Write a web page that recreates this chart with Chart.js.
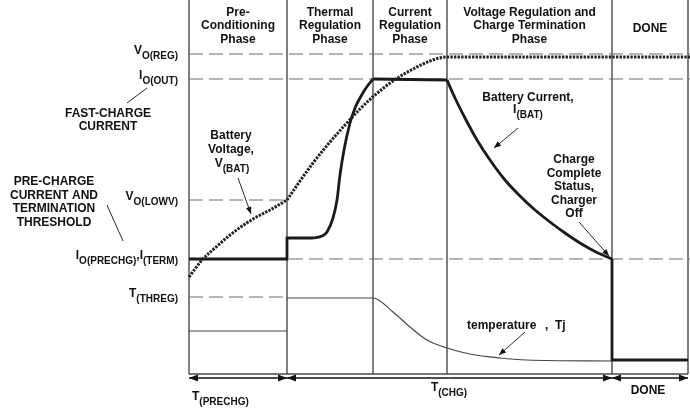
<!DOCTYPE html>
<html>
<head>
<meta charset="utf-8">
<script src="https://cdn.jsdelivr.net/npm/chart.js@4.4.1/dist/chart.umd.min.js"></script>
<style>
  html, body { margin: 0; padding: 0; background: #fff; }
  #wrap { width: 690px; height: 413px; position: relative; }
</style>
</head>
<body>
<div id="wrap"><canvas id="grafico"></canvas></div>
<script>
// phase boundaries on the time axis (arbitrary units)
const phaseEdges = [0, 98, 184, 258, 423, 499];
const phaseNames = [
  ["Pre-", "Conditioning", "Phase"],
  ["Thermal", "Regulation", "Phase"],
  ["Current", "Regulation", "Phase"],
  ["Voltage Regulation and", "Charge Termination", "Phase"],
  ["DONE"]
];

// threshold levels (arbitrary units)
const vReg = 320, iOut = 295, vLowv = 174, iPrechg = 115, tThreg = 77;

// battery current I(BAT)
const currentSteps = [[0, 115], [98, 115], [98, 136], [124, 136], [124, null],
  [184, 295], [258, 294], [258, null],
  [423, 115], [423, 14], [499, 14]];
const currentRise = [[124, 136], [133, 138], [138, 142], [144, 156], [148, 174], [151, 199],
  [155, 224], [161, 251], [166, 266], [171, 276], [177, 286], [184, 295]];
const currentDecay = [[258, 294], [266, 276], [276, 256], [288, 234], [301, 214], [316, 194],
  [331, 178], [346, 164], [361, 152], [376, 141], [391, 131], [407, 122], [423, 115]];

// battery voltage V(BAT)
const voltagePre = [[0, 97], [13, 114], [26, 126], [41, 139], [64, 155], [81, 164], [98, 174]];
const voltageFast = [[98, 174], [111, 193], [124, 211], [141, 232], [156, 249], [171, 265],
  [186, 279], [204, 293], [224, 305], [241, 313], [258, 317], [501, 317]];

// junction temperature Tj
const tempPre = [[0, 43], [98, 43]];
const tempCurve = [[98, 76], [184, 76], [204, 62], [221, 47], [238, 34], [258, 26],
  [281, 20], [311, 16], [338, 14], [423, 13]];

const pts = arr => arr.map(p => ({ x: p[0], y: p[1] }));

const topY = 374;
const frame = [];
phaseEdges.forEach(e => { frame.push([e, 0], [e, topY], [e, null]); });
frame.push([0, 0], [499, 0]);

const levelsFull = [[0, vReg], [501, vReg], [501, null], [0, iOut], [501, iOut], [501, null],
  [0, iPrechg], [501, iPrechg], [501, null], [0, vLowv], [98, vLowv], [98, null],
  [0, tThreg], [98, tThreg]];

const FMAIN = 'bold 12px "Liberation Sans", Arial, Helvetica, sans-serif';
const FSUB = 'bold 10px "Liberation Sans", Arial, Helvetica, sans-serif';

function rich(ctx, segs, xPos, yMid, align) {
  const w = segs.map(([t, s]) => { ctx.font = s ? FSUB : FMAIN; return ctx.measureText(t).width; });
  const total = w.reduce((a, b) => a + b, 0);
  let cx = align === "right" ? xPos - total : align === "center" ? xPos - total / 2 : xPos;
  ctx.textAlign = "left";
  segs.forEach(([t, s], i) => {
    ctx.font = s ? FSUB : FMAIN;
    ctx.fillText(t, cx, s ? yMid + 5 : yMid);
    cx += w[i];
  });
}

function lines(ctx, arr, xc, ys) {
  ctx.font = FMAIN;
  ctx.textAlign = "center";
  arr.forEach((t, i) => ctx.fillText(t, xc, ys[i]));
}

function arrow(ctx, x1, y1, x2, y2, head) {
  ctx.beginPath();
  ctx.moveTo(x1, y1);
  ctx.lineTo(x2, y2);
  ctx.stroke();
  if (!head) return;
  const a = Math.atan2(y2 - y1, x2 - x1);
  ctx.beginPath();
  ctx.moveTo(x2, y2);
  ctx.lineTo(x2 - head * Math.cos(a) + head * 0.4 * Math.sin(a), y2 - head * Math.sin(a) - head * 0.4 * Math.cos(a));
  ctx.lineTo(x2 - head * Math.cos(a) - head * 0.4 * Math.sin(a), y2 - head * Math.sin(a) + head * 0.4 * Math.cos(a));
  ctx.closePath();
  ctx.fill();
}

const rotulos = {
  id: "rotulos",
  afterDatasetsDraw(chart) {
    const { ctx, scales: { x, y }, chartArea } = chart;
    ctx.save();
    ctx.fillStyle = "#111";
    ctx.strokeStyle = "#111";
    ctx.textBaseline = "middle";

    // phase headers
    phaseNames.forEach((nm, i) => {
      const xc = (x.getPixelForValue(phaseEdges[i]) + x.getPixelForValue(phaseEdges[i + 1])) / 2;
      if (nm.length === 1) lines(ctx, nm, xc, [29]);
      else lines(ctx, nm, xc, [12.5, 26, 39.5]);
    });

    // level labels
    const xr = 178;
    rich(ctx, [["V", 0], ["O(REG)", 1]], xr, y.getPixelForValue(vReg) - 3, "right");
    rich(ctx, [["I", 0], ["O(OUT)", 1]], xr, y.getPixelForValue(iOut) - 3, "right");
    rich(ctx, [["V", 0], ["O(LOWV)", 1]], xr, y.getPixelForValue(vLowv) - 3, "right");
    rich(ctx, [["I", 0], ["O(PRECHG)", 1], [",", 0], ["I", 0], ["(TERM)", 1]], xr, y.getPixelForValue(iPrechg) - 3, "right");
    rich(ctx, [["T", 0], ["(THREG)", 1]], xr, y.getPixelForValue(tThreg) - 3, "right");

    lines(ctx, ["FAST-CHARGE", "CURRENT"], 108, [114, 127]);
    lines(ctx, ["PRE-CHARGE", "CURRENT AND", "TERMINATION", "THRESHOLD"], 54, [182, 196, 209, 223]);
    lines(ctx, ["Battery", "Voltage,"], 231, [136, 150]);
    rich(ctx, [["V", 0], ["(BAT)", 1]], 232, 164, "center");
    lines(ctx, ["Battery Current,"], 528, [98]);
    rich(ctx, [["I", 0], ["(BAT)", 1]], 528, 110, "center");
    lines(ctx, ["Charge", "Complete", "Status,", "Charger", "Off"], 574, [160, 174, 187, 201, 214]);
    ctx.font = FMAIN;
    ctx.textAlign = "left";
    ctx.fillText("temperature", 467, 326);
    ctx.fillText(",", 545, 326);
    ctx.fillText("Tj", 555, 326);

    // leader lines and arrows
    ctx.lineWidth = 0.9;
    arrow(ctx, 127, 103, 147, 88, 0);
    arrow(ctx, 107, 205, 123, 241, 0);
    arrow(ctx, 238, 178, 251, 214, 7);
    arrow(ctx, 518, 128, 494, 148, 7);
    arrow(ctx, 579, 222, 609, 256, 7);
    arrow(ctx, 525, 332, 499, 355, 7);

    // duration arrows under the chart
    const ya = chartArea.bottom + 4;
    const spans = [[phaseEdges[0], phaseEdges[1]], [phaseEdges[1], phaseEdges[4]], [phaseEdges[4], phaseEdges[5]]];
    ctx.lineWidth = 1.6;
    spans.forEach(([a, b]) => {
      const p1 = x.getPixelForValue(a), p2 = x.getPixelForValue(b);
      const m = (p1 + p2) / 2;
      arrow(ctx, m, ya, p2, ya, 9);
      arrow(ctx, m, ya, p1, ya, 9);
    });
    rich(ctx, [["T", 0], ["(PRECHG)", 1]], 192, 397, "left");
    rich(ctx, [["T", 0], ["(CHG)", 1]], 449, 388, "center");
    lines(ctx, ["DONE"], 648, [391]);
    ctx.restore();
  }
};

new Chart(document.getElementById("grafico"), {
  type: "line",
  data: {
    datasets: [
      { data: pts(currentSteps), borderColor: "#1a1a1a", borderWidth: 2.8, tension: 0, clip: false },
      { data: pts(currentRise), borderColor: "#1a1a1a", borderWidth: 2.8, cubicInterpolationMode: "monotone", clip: false },
      { data: pts(currentDecay), borderColor: "#1a1a1a", borderWidth: 2.8, cubicInterpolationMode: "monotone", clip: false },
      { data: pts(voltagePre), borderColor: "#222", borderWidth: 3, borderDash: [2.4, 1.2], cubicInterpolationMode: "monotone", clip: false },
      { data: pts(voltageFast), borderColor: "#222", borderWidth: 3, borderDash: [2.4, 1.2], cubicInterpolationMode: "monotone", clip: false },
      { data: pts(tempPre), borderColor: "#444", borderWidth: 1.1, clip: false },
      { data: pts(tempCurve), borderColor: "#444", borderWidth: 1.1, cubicInterpolationMode: "monotone", clip: false },
      { data: pts(levelsFull), borderColor: "#6a6a6a", borderWidth: 1, borderDash: [14, 6], tension: 0, clip: false },
      { data: pts(frame), borderColor: "#4a4a4a", borderWidth: 1.4, tension: 0, clip: false }
    ]
  },
  options: {
    responsive: true,
    maintainAspectRatio: false,
    animation: false,
    layout: { padding: { left: 189, right: 0, top: 0, bottom: 39 } },
    plugins: { legend: { display: false }, tooltip: { enabled: false } },
    elements: { point: { radius: 0 } },
    scales: {
      x: { type: "linear", min: 0, max: 501, display: false },
      y: { type: "linear", min: 0, max: topY, display: false }
    }
  },
  plugins: [rotulos]
});
</script>
</body>
</html>
